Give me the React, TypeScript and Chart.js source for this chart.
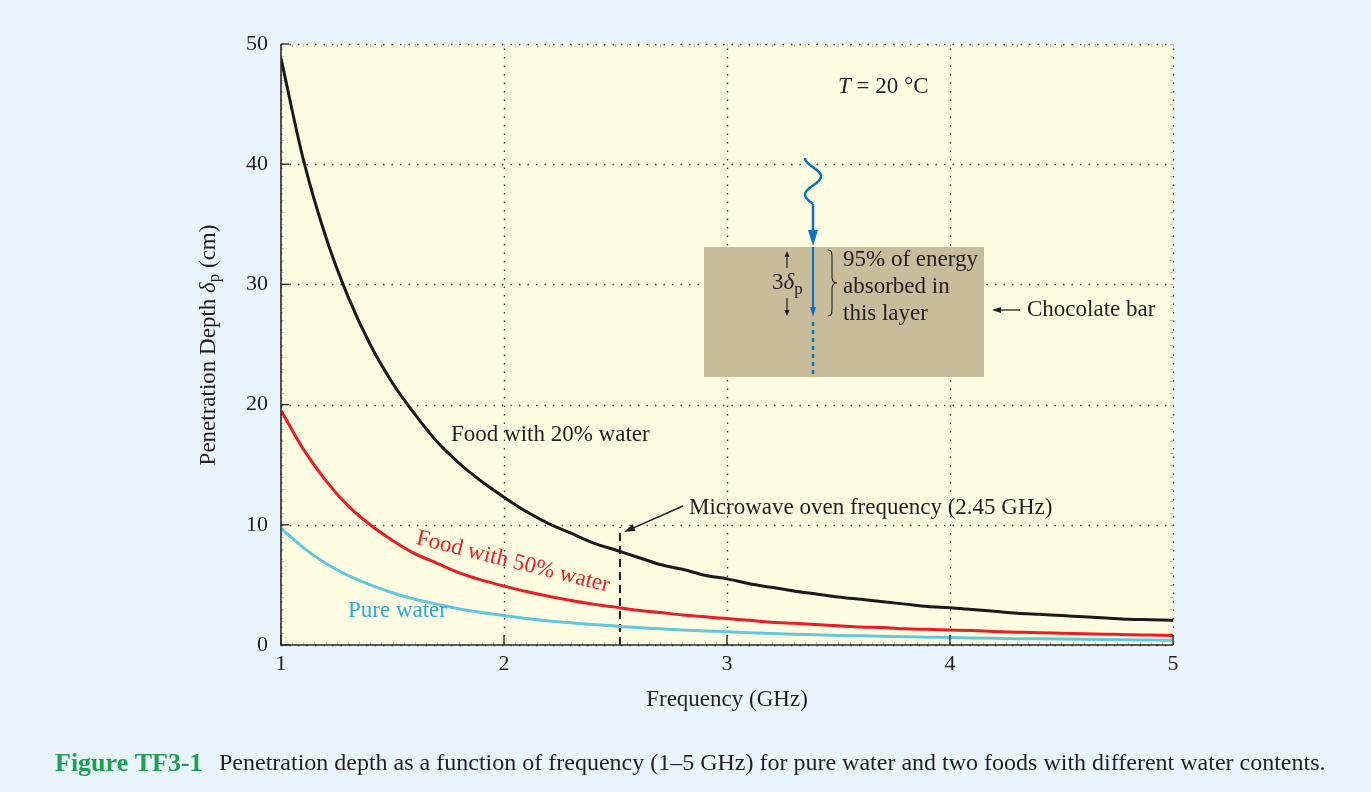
import React, { useEffect, useRef } from "react";
import { Chart, registerables } from "chart.js";

Chart.register(...registerables);

// ---------- data ----------
const frequencyGHz = [
  1.0, 1.1, 1.2, 1.3, 1.4, 1.5, 1.6, 1.7, 1.8, 1.9,
  2.0, 2.1, 2.2, 2.3, 2.4, 2.5, 2.6, 2.7, 2.8, 2.9,
  3.0, 3.1, 3.2, 3.3, 3.4, 3.5, 3.6, 3.7, 3.8, 3.9,
  4.0, 4.1, 4.2, 4.3, 4.4, 4.5, 4.6, 4.7, 4.8, 4.9, 5.0,
];
const food20Water = [
  48.8, 40.4, 34.0, 29.0, 25.0, 21.8, 19.2, 16.9, 15.1, 13.6,
  12.3, 11.1, 10.1, 9.3, 8.5, 7.9, 7.3, 6.7, 6.3, 5.8,
  5.5, 5.1, 4.8, 4.5, 4.25, 4.0, 3.8, 3.6, 3.4, 3.2,
  3.1, 2.95, 2.8, 2.65, 2.55, 2.45, 2.35, 2.25, 2.15, 2.1, 2.05,
];
const food50Water = [
  19.5, 16.3, 13.7, 11.6, 10.0, 8.7, 7.6, 6.8, 6.0, 5.4,
  4.9, 4.45, 4.05, 3.7, 3.4, 3.15, 2.9, 2.7, 2.5, 2.35,
  2.2, 2.05, 1.9, 1.8, 1.7, 1.6, 1.5, 1.45, 1.35, 1.3,
  1.25, 1.2, 1.12, 1.07, 1.02, 0.98, 0.94, 0.9, 0.86, 0.83, 0.8,
];
const pureWater = [
  9.7, 8.1, 6.8, 5.8, 5.0, 4.35, 3.8, 3.4, 3.0, 2.7,
  2.45, 2.2, 2.0, 1.85, 1.7, 1.57, 1.45, 1.35, 1.25, 1.17,
  1.1, 1.02, 0.96, 0.9, 0.85, 0.8, 0.76, 0.72, 0.68, 0.65,
  0.62, 0.59, 0.56, 0.53, 0.51, 0.49, 0.47, 0.45, 0.43, 0.41, 0.4,
];
const xTickValues = [1, 2, 3, 4, 5];
const yTickValues = [0, 10, 20, 30, 40, 50];
const microwaveMarkerX = 2.52;
const microwaveMarkerTop = 9.8;

const SERIF = '"Liberation Serif", "Times New Roman", serif';
const BG_BLUE = "#e8f5fc";
const PLOT_YELLOW = "#fffde1";
const TEXT_DARK = "#231f20";
const FS = 23;

function arrow(
  ctx: CanvasRenderingContext2D,
  x1: number, y1: number, x2: number, y2: number,
  color: string, lw: number, headLen: number, headW: number
) {
  const ang = Math.atan2(y2 - y1, x2 - x1);
  const bx = x2 - headLen * Math.cos(ang);
  const by = y2 - headLen * Math.sin(ang);
  ctx.save();
  ctx.strokeStyle = color;
  ctx.fillStyle = color;
  ctx.lineWidth = lw;
  ctx.beginPath();
  ctx.moveTo(x1, y1);
  ctx.lineTo(bx, by);
  ctx.stroke();
  ctx.beginPath();
  ctx.moveTo(x2, y2);
  ctx.lineTo(bx + (headW / 2) * Math.sin(ang), by - (headW / 2) * Math.cos(ang));
  ctx.lineTo(bx - (headW / 2) * Math.sin(ang), by + (headW / 2) * Math.cos(ang));
  ctx.closePath();
  ctx.fill();
  ctx.restore();
}

const decorPlugin = {
  id: "decor",
  beforeDraw(chart: any) {
    const { ctx, chartArea: a } = chart;
    ctx.save();
    ctx.fillStyle = PLOT_YELLOW;
    ctx.fillRect(a.left, a.top, a.right - a.left, a.bottom - a.top);
    ctx.restore();
  },
  beforeDatasetsDraw(chart: any) {
    const { ctx, chartArea: a, scales } = chart;
    const xs = scales.x;
    const ys = scales.y;
    ctx.save();
    // minor ticks
    ctx.strokeStyle = "#c4c4c4";
    ctx.lineWidth = 1;
    for (let v = 1; v <= 5.0001; v += 0.05) {
      const px = Math.round(xs.getPixelForValue(v)) + 0.5;
      ctx.beginPath();
      ctx.moveTo(px, a.top);
      ctx.lineTo(px, a.top + 3);
      ctx.moveTo(px, a.bottom);
      ctx.lineTo(px, a.bottom - 3);
      ctx.stroke();
    }
    for (let v = 0; v <= 50.0001; v += 1) {
      const py = Math.round(ys.getPixelForValue(v)) + 0.5;
      ctx.beginPath();
      ctx.moveTo(a.left, py);
      ctx.lineTo(a.left + 3, py);
      ctx.moveTo(a.right, py);
      ctx.lineTo(a.right - 3, py);
      ctx.stroke();
    }
    // dotted grid
    ctx.strokeStyle = "#3a3a3a";
    ctx.lineWidth = 1.3;
    ctx.setLineDash([1.4, 7.1]);
    for (const v of xTickValues) {
      const px = Math.round(xs.getPixelForValue(v)) + 0.5;
      ctx.beginPath();
      ctx.moveTo(px, a.bottom);
      ctx.lineTo(px, a.top);
      ctx.stroke();
    }
    for (const v of yTickValues) {
      const py = Math.round(ys.getPixelForValue(v)) + 0.5;
      ctx.beginPath();
      ctx.moveTo(a.left, py);
      ctx.lineTo(a.right, py);
      ctx.stroke();
    }
    ctx.setLineDash([]);

    // chocolate bar block
    ctx.fillStyle = "#c9bc9a";
    ctx.fillRect(704, 247, 280, 130);

    // microwave marker dashed line
    const mx = xs.getPixelForValue(microwaveMarkerX);
    ctx.strokeStyle = "#1a1a1a";
    ctx.lineWidth = 2;
    ctx.setLineDash([8, 5]);
    ctx.beginPath();
    ctx.moveTo(mx, a.bottom);
    ctx.lineTo(mx, ys.getPixelForValue(microwaveMarkerTop));
    ctx.stroke();
    ctx.setLineDash([]);
    ctx.restore();
  },
  afterDatasetsDraw(chart: any) {
    const { ctx, chartArea: a, scales } = chart;
    const xs = scales.x;
    const ys = scales.y;
    ctx.save();
    // axes
    ctx.strokeStyle = "#2b2b2b";
    ctx.lineWidth = 1.6;
    ctx.beginPath();
    ctx.moveTo(a.left, a.top);
    ctx.lineTo(a.left, a.bottom);
    ctx.lineTo(a.right, a.bottom);
    ctx.stroke();
    ctx.lineWidth = 1.4;
    for (const v of yTickValues) {
      const py = ys.getPixelForValue(v);
      ctx.beginPath();
      ctx.moveTo(a.left, py);
      ctx.lineTo(a.left + 8, py);
      ctx.stroke();
    }
    for (const v of xTickValues) {
      const px = xs.getPixelForValue(v);
      ctx.beginPath();
      ctx.moveTo(px, a.bottom);
      ctx.lineTo(px, a.bottom - 10);
      ctx.stroke();
    }

    ctx.fillStyle = TEXT_DARK;
    ctx.textBaseline = "middle";
    // x-axis title
    ctx.font = `${FS}px ${SERIF}`;
    ctx.textAlign = "center";
    ctx.fillText("Frequency (GHz)", (a.left + a.right) / 2, 700);

    // y-axis title with subscript
    ctx.save();
    ctx.translate(209, 345);
    ctx.rotate(-Math.PI / 2);
    const p1 = "Penetration Depth ";
    const pD = "\u03b4";
    const pS = "p";
    const p2 = " (cm)";
    ctx.font = `${FS}px ${SERIF}`;
    const w1 = ctx.measureText(p1).width;
    const w2 = ctx.measureText(p2).width;
    ctx.font = `italic ${FS}px ${SERIF}`;
    const wD = ctx.measureText(pD).width;
    ctx.font = `17px ${SERIF}`;
    const wS = ctx.measureText(pS).width;
    let cx = -(w1 + wD + wS + w2) / 2;
    ctx.textAlign = "left";
    ctx.font = `${FS}px ${SERIF}`;
    ctx.fillText(p1, cx, 0);
    cx += w1;
    ctx.font = `italic ${FS}px ${SERIF}`;
    ctx.fillText(pD, cx, 0);
    cx += wD;
    ctx.font = `17px ${SERIF}`;
    ctx.fillText(pS, cx, 6);
    cx += wS;
    ctx.font = `${FS}px ${SERIF}`;
    ctx.fillText(p2, cx, 0);
    ctx.restore();

    // T = 20 °C
    ctx.textAlign = "left";
    ctx.font = `italic ${FS}px ${SERIF}`;
    ctx.fillText("T", 838, 87);
    const tw = ctx.measureText("T").width;
    ctx.font = `${FS}px ${SERIF}`;
    ctx.fillText(" = 20 \u00b0C", 838 + tw, 87);

    // curve labels
    ctx.fillText("Food with 20% water", 451, 435);
    ctx.fillStyle = "#29abe2";
    ctx.fillText("Pure water", 348, 611);
    ctx.save();
    ctx.fillStyle = "#e8202a";
    ctx.translate(513, 562);
    ctx.rotate((14 * Math.PI) / 180);
    ctx.textAlign = "center";
    ctx.fillText("Food with 50% water", 0, 0);
    ctx.restore();

    // microwave annotation
    ctx.fillStyle = TEXT_DARK;
    ctx.fillText("Microwave oven frequency (2.45 GHz)", 689, 508);
    arrow(ctx, 683, 506, 624, 532, "#231f20", 1.5, 11, 7);

    // chocolate bar annotations
    ctx.fillText("95% of energy", 843, 260);
    ctx.fillText("absorbed in", 843, 287);
    ctx.fillText("this layer", 843, 314);
    ctx.fillText("Chocolate bar", 1027, 310);
    arrow(ctx, 1020, 310, 992, 310, "#231f20", 1.3, 9, 6);

    // 3 delta p
    ctx.font = `${FS}px ${SERIF}`;
    ctx.fillText("3", 772, 283);
    const w3 = ctx.measureText("3").width;
    ctx.font = `italic ${FS}px ${SERIF}`;
    ctx.fillText("\u03b4", 772 + w3, 283);
    const wd = ctx.measureText("\u03b4").width;
    ctx.font = `17px ${SERIF}`;
    ctx.fillText("p", 772 + w3 + wd, 290);
    arrow(ctx, 787, 268, 787, 251, "#231f20", 1.2, 6, 5);
    arrow(ctx, 787, 298, 787, 316, "#231f20", 1.2, 6, 5);

    // brace
    ctx.strokeStyle = "#231f20";
    ctx.lineWidth = 1.1;
    ctx.beginPath();
    const bx = 828;
    ctx.moveTo(bx, 250);
    ctx.bezierCurveTo(bx + 4, 250, bx + 4, 253, bx + 4, 258);
    ctx.lineTo(bx + 4, 277);
    ctx.bezierCurveTo(bx + 4, 281, bx + 6, 283, bx + 9, 283);
    ctx.bezierCurveTo(bx + 6, 283, bx + 4, 285, bx + 4, 289);
    ctx.lineTo(bx + 4, 308);
    ctx.bezierCurveTo(bx + 4, 313, bx + 4, 316, bx, 316);
    ctx.stroke();

    // blue wave and arrows
    const blue = "#0b72c4";
    ctx.strokeStyle = blue;
    ctx.lineWidth = 2.5;
    ctx.beginPath();
    for (let i = 0; i <= 60; i++) {
      const t = i / 60;
      const x = 813 - 8 * Math.cos(3 * Math.PI * t * 0.8333);
      const y = 158 + 55 * 0.8333 * t;
      if (i === 0) ctx.moveTo(x, y);
      else ctx.lineTo(x, y);
    }
    ctx.stroke();
    arrow(ctx, 813, 204, 813, 246, blue, 2.5, 16, 10);
    arrow(ctx, 813, 247, 813, 317, blue, 2.2, 10, 6);
    ctx.setLineDash([4, 4]);
    ctx.beginPath();
    ctx.moveTo(813, 322);
    ctx.lineTo(813, 374);
    ctx.stroke();
    ctx.setLineDash([]);

    // caption
    ctx.textAlign = "left";
    ctx.fillStyle = "#1fa04f";
    ctx.font = `bold 26px ${SERIF}`;
    ctx.fillText("Figure TF3-1", 55, 764);
    ctx.fillStyle = TEXT_DARK;
    ctx.font = `24px ${SERIF}`;
    ctx.fillText(
      "Penetration depth as a function of frequency (1\u20135 GHz) for pure water and two foods with different water contents.",
      219, 764
    );
    ctx.restore();
  },
};

export default function App() {
  const ref = useRef<HTMLCanvasElement | null>(null);
  useEffect(() => {
    document.body.style.margin = "0";
    document.body.style.background = BG_BLUE;
    if (!ref.current) return;
    const mk = (vals: number[]) => frequencyGHz.map((f, i) => ({ x: f, y: vals[i] }));
    const chart = new Chart(ref.current, {
      type: "line",
      data: {
        datasets: [
          { label: "Food with 20% water", data: mk(food20Water), borderColor: "#1a1a1a", borderWidth: 3, pointRadius: 0, cubicInterpolationMode: "monotone" },
          { label: "Food with 50% water", data: mk(food50Water), borderColor: "#ec1c24", borderWidth: 3, pointRadius: 0, cubicInterpolationMode: "monotone" },
          { label: "Pure water", data: mk(pureWater), borderColor: "#62c8dc", borderWidth: 3, pointRadius: 0, cubicInterpolationMode: "monotone" },
        ],
      },
      plugins: [decorPlugin],
      options: {
        animation: false,
        responsive: false,
        devicePixelRatio: 1,
        layout: { padding: { left: 0, top: 44, right: 198, bottom: 107 } },
        plugins: { legend: { display: false }, tooltip: { enabled: false } },
        scales: {
          x: {
            type: "linear",
            min: 1,
            max: 5,
            afterFit: (s: any) => { s.height = 40; },
            afterBuildTicks: (s: any) => { s.ticks = xTickValues.map((v) => ({ value: v })); },
            ticks: { color: TEXT_DARK, font: { family: SERIF, size: 22 }, padding: 6 },
            grid: { display: false, drawTicks: false },
            border: { display: false },
          },
          y: {
            type: "linear",
            min: 0,
            max: 50,
            afterFit: (s: any) => { s.width = 281; },
            afterBuildTicks: (s: any) => { s.ticks = yTickValues.map((v) => ({ value: v })); },
            ticks: { color: TEXT_DARK, font: { family: SERIF, size: 22 }, padding: 13 },
            grid: { display: false, drawTicks: false },
            border: { display: false },
          },
        },
      },
    } as any);
    return () => chart.destroy();
  }, []);
  return (
    <div style={{ width: 1371, height: 792, background: BG_BLUE, position: "relative" }}>
      <canvas ref={ref} width={1371} height={792} style={{ display: "block", width: 1371, height: 792 }} />
    </div>
  );
}
